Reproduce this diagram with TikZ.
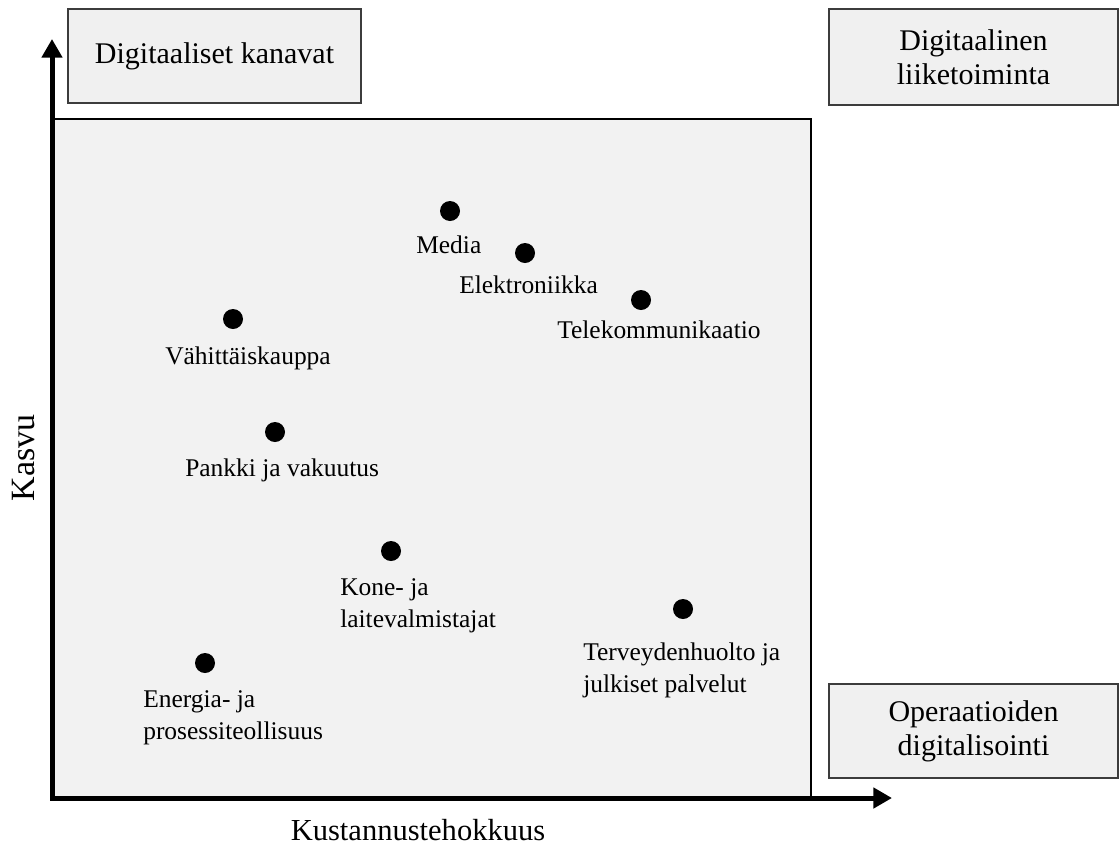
\documentclass[tikz,border=0pt]{standalone}
\usepackage{fontspec}
\setmainfont{Liberation Serif}
\usetikzlibrary{arrows.meta}
\definecolor{panel}{HTML}{F2F2F2}
\definecolor{boxfill}{HTML}{F0F0F0}
\definecolor{boxline}{HTML}{3C3C3C}

\begin{document}
\begin{tikzpicture}[x=0.75pt,y=-0.75pt,
  quadbox/.style={draw=boxline,line width=1.2pt,fill=boxfill,inner sep=0pt,
    align=center,font=\fontsize{22.5}{25.5}\selectfont},
  dot/.style={circle,fill=black,minimum size=15pt,inner sep=0pt},
  lbl/.style={font=\fontsize{19.1}{24}\selectfont,inner sep=0pt,align=left,anchor=base west},
  axislabel/.style={font=\fontsize{22.9}{25.5}\selectfont,inner sep=0pt},
  axisline/.style={line width=3.75pt,line join=miter,
    {Triangle[length=14pt,width=15pt]}-{Triangle[length=14pt,width=15pt]}}
]
\useasboundingbox (0,0) rectangle (1120,850);

% plotting field
\draw[fill=panel,line width=2pt] (52,119) rectangle (811,798);

% axes
\coordinate (origin) at (52,798);
\coordinate (ytip) at (52,39);
\coordinate (xtip) at (892,798);
\draw[axisline] (ytip) -- (origin) -- (xtip);

\node[axislabel,font=\fontsize{25.5}{28}\selectfont,rotate=90] (kasvu) at (24,458) {Kasvu};
\node[axislabel] (kustannus) at (418,830) {Kustannustehokkuus};

% quadrant boxes
\node[quadbox,minimum width=219.75pt,minimum height=70.5pt] (kanavat) at (214.5,56) {Digitaaliset kanavat};
\node[quadbox,minimum width=216.75pt,minimum height=72pt] (liiketoiminta) at (973.5,57) {Digitaalinen\\liiketoiminta};
\node[quadbox,minimum width=216.75pt,minimum height=70.5pt] (operaatiot) at (973.5,731) {Operaatioiden\\digitalisointi};

% industries (multi-line labels are anchored at the baseline of their last line)
\node[dot] (media) at (450,211) {};
\node[lbl] (medial) at (416,253) {Media};

\node[dot] (elektro) at (525,253) {};
\node[lbl] (elektrol) at (459,293) {Elektroniikka};

\node[dot] (tele) at (641,300) {};
\node[lbl] (telel) at (557,338) {Telekommunikaatio};

\node[dot] (vahittais) at (233,319) {};
\node[lbl] (vahittaisl) at (165,364) {Vähittäiskauppa};

\node[dot] (pankki) at (275,432) {};
\node[lbl] (pankkil) at (185,476) {Pankki ja vakuutus};

\node[dot] (kone) at (391,551) {};
\node[lbl] (konel) at (340,627) {Kone- ja\\laitevalmistajat};

\node[dot] (terveys) at (683,609) {};
\node[lbl] (terveysl) at (583,692) {Terveydenhuolto ja\\julkiset palvelut};

\node[dot] (energia) at (205,663) {};
\node[lbl] (energial) at (143,739) {Energia- ja\\prosessiteollisuus};
\end{tikzpicture}
\end{document}
